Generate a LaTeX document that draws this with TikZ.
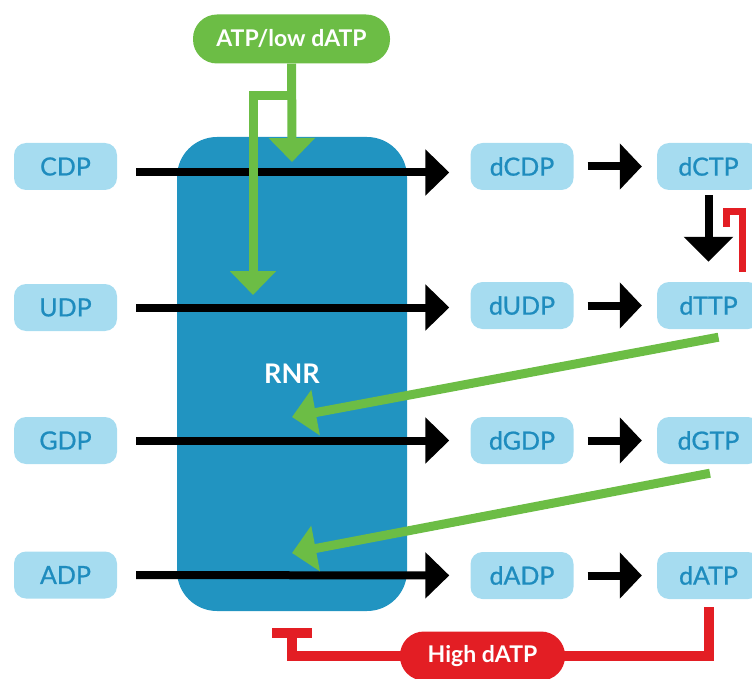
\documentclass[tikz,border=0pt]{standalone}
\usepackage{fontspec}
\setmainfont{Lato}
\newfontfamily\nucfont[FakeBold=0.8]{Lato}
\usepackage{tikz}
\usetikzlibrary{arrows.meta}

\definecolor{rnrblue}{RGB}{33,148,193}
\definecolor{boxblue}{RGB}{166,220,240}
\definecolor{txtblue}{RGB}{30,140,190}
\definecolor{actgreen}{RGB}{108,189,69}
\definecolor{inhred}{RGB}{227,30,36}

\begin{document}
\begin{tikzpicture}[x=1pt,y=-1pt,
		nuc/.style={fill=boxblue,rounded corners=12pt,minimum width=103pt,minimum height=47pt,inner sep=0pt,text=txtblue,font=\nucfont\fontsize{25}{27}\selectfont},
		pill/.style={rounded corners=24pt,minimum height=49pt,inner sep=0pt,text=white,font=\bfseries\fontsize{23}{25}\selectfont},
		blk/.style={line width=8pt,-{Triangle[length=24pt,width=45pt]}},
		act/.style={draw=actgreen,line width=9pt,-{Triangle[length=24pt,width=45pt]}}]
			\useasboundingbox (0,0) rectangle (752,679);
			
			% enzyme
			\node[fill=rnrblue,rounded corners=40pt,minimum width=230pt,minimum height=474pt,text=white,font=\bfseries\fontsize{27}{29}\selectfont] (rnr) at (292,374) {RNR};
			
			% nucleotides
			\node[nuc] (cdp) at (65.5,166.5) {CDP};
			\node[nuc] (udp) at (65.5,307.5) {UDP};
			\node[nuc] (gdp) at (65.5,440.5) {GDP};
			\node[nuc] (adp) at (65.5,575) {ADP};
			\node[nuc] (dcdp) at (522,166.5) {dCDP};
			\node[nuc] (dudp) at (522,305.5) {dUDP};
			\node[nuc] (dgdp) at (522,440.5) {dGDP};
			\node[nuc] (dadp) at (522,575.5) {dADP};
			\node[nuc] (dctp) at (708.5,166.5) {dCTP};
			\node[nuc] (dttp) at (708.5,305.5) {dTTP};
			\node[nuc] (dgtp) at (708.5,440.5) {dGTP};
			\node[nuc] (datp) at (708.5,575.5) {dATP};
			
			% reduction
			\draw[blk,shorten <=19pt,shorten >=21pt] ([yshift=-6pt]cdp.east) -- ([yshift=-6pt]dcdp.west);
			\draw[blk,shorten <=19pt,shorten >=21pt] (udp.east) -- (udp.east -| dudp.west);
			\draw[blk,shorten <=19pt,shorten >=21pt] (gdp) -- (dgdp);
			\draw[blk,shorten <=19pt,shorten >=21pt] (adp) -- (dadp);
			
			% phosphorylation
			\draw[blk,-{Triangle[length=22pt,width=45pt]},shorten <=14pt,shorten >=15pt] (dcdp) -- (dctp);
			\draw[blk,-{Triangle[length=22pt,width=45pt]},shorten <=14pt,shorten >=15pt] (dudp) -- (dttp);
			\draw[blk,-{Triangle[length=22pt,width=45pt]},shorten <=14pt,shorten >=15pt] (dgdp) -- (dgtp);
			\draw[blk,-{Triangle[length=22pt,width=45pt]},shorten <=14pt,shorten >=15pt] (dadp) -- (datp);
			\draw[blk,-{Triangle[length=25pt,width=48pt]},shorten <=5pt,shorten >=20pt] (dctp) -- (dttp);
			\draw[inhred,line width=7pt] ([xshift=33.5pt,yshift=10pt]dttp.north) -- ++(0,-60) -- ++(-16,0) -- ++(0,15);
			
			% activation
			\node[pill,fill=actgreen,minimum width=197pt] (atp) at (291.5,39) {ATP/low dATP};
			\coordinate (a1) at (292,162);
			\coordinate (a2) at (253,295);
			\coordinate (a3) at (292,417);
			\coordinate (a4) at (292,553);
			\draw[act] (atp) -- (a1);
			\draw[act] (atp.south) -- ++(0,32) -| (a2);
			\draw[act] ([xshift=10pt,yshift=-8pt]dttp.south) -- (a3);
			\draw[act] ([xshift=1.5pt,yshift=-9pt]dgtp.south) -- (a4);
			
			% inhibition
			\coordinate (i1) at (292,628);
			\coordinate (hc) at (482.5,656);
			\draw[inhred,line width=10pt,-{Bar[width=40pt]}] ([yshift=-8pt]datp.south) |- (hc) -| (i1);
			\node[pill,fill=inhred,minimum width=165pt] (high) at (hc) {High dATP};
		\end{tikzpicture}
\end{document}
